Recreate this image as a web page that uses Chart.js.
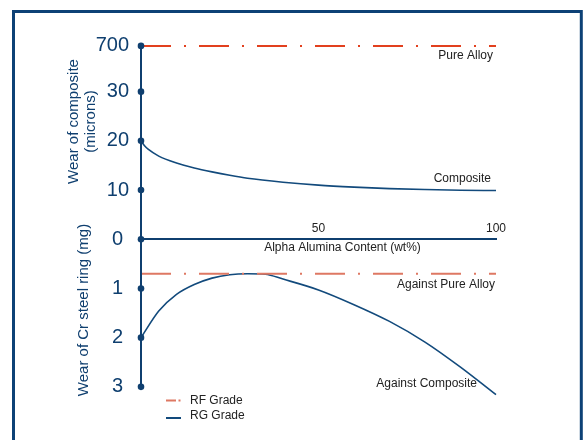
<!DOCTYPE html>
<html>
<head>
<meta charset="utf-8">
<script src="https://cdn.jsdelivr.net/npm/chart.js@4/dist/chart.umd.min.js"></script>
<style>
  html, body { margin: 0; padding: 0; background: #fff; overflow: hidden; }
  #wrap { position: relative; width: 583px; height: 440px; }
</style>
</head>
<body>
<div id="wrap"><canvas id="wear" width="583" height="440"></canvas></div>
<script>
// Alpha alumina content of the composite (wt%)
const alumina = [0, 1, 2, 5, 10, 15, 20, 25, 30, 40, 50, 60, 70, 80, 90, 100];
// Wear of the composite (microns) - RG grade
const compositeWear = [20, 19.0, 18.3, 16.9, 15.5, 14.5, 13.7, 13.0, 12.4, 11.6, 11.0, 10.6, 10.3, 10.1, 9.95, 9.9];
// Wear of the pure alloy (microns) - RF grade, shown above the axis break
const alloyContent = [0, 100];
const pureAlloyWear = [700, 700];

// Wear of the Cr steel ring (mg)
const ringContent = [0, 5, 10, 15, 20, 25, 30, 35, 40, 50, 60, 70, 80, 90, 100];
const ringWearVsComposite = [2.0, 1.46, 1.12, 0.92, 0.79, 0.72, 0.70, 0.71, 0.81, 1.03, 1.33, 1.67, 2.09, 2.60, 3.16];
const ringWearVsAlloy = [0.7, 0.7];

// Axis ticks
const upperTicks = [10, 20, 30, 700];
const lowerTicks = [0, 1, 2, 3];
const xTicks = [50, 100];

// Upper axis is broken: anything above BREAK_ABOVE is drawn at BREAK_AT
const BREAK_ABOVE = 35;
const BREAK_AT = 39.3;
const UPPER_MAX = 40.5;   // microns
const LOWER_MAX = 3.8;    // mg

const FONT = "'Liberation Sans', Arial, Helvetica, sans-serif";
const NAVY = '#0f3f6f';
const CURVE = '#124a7c';
const RED = '#e2401e';
const SALMON = '#de7863';
const INK = '#222222';
const DASH_DOT = [30, 13, 2, 13];

Chart.defaults.font.family = FONT;

class BrokenLinearScale extends Chart.LinearScale {
  getPixelForValue(value) {
    return super.getPixelForValue(value > BREAK_ABOVE ? BREAK_AT : value);
  }
}
BrokenLinearScale.id = 'brokenLinear';
BrokenLinearScale.defaults = Chart.LinearScale.defaults;
Chart.register(BrokenLinearScale);

const pts = (xs, ys) => xs.map((x, i) => ({ x, y: ys[i] }));

const lineBase = { pointRadius: 0, pointHoverRadius: 0, fill: false, clip: false };

const datasets = [
  { ...lineBase, label: 'Pure Alloy', note: { dx: -3, dy: 13 },
    data: pts(alloyContent, pureAlloyWear), yAxisID: 'y',
    borderColor: RED, borderWidth: 2, borderDash: DASH_DOT },
  { ...lineBase, label: 'Composite', note: { dx: -5, dy: -9 },
    data: pts(alumina, compositeWear), yAxisID: 'y',
    borderColor: CURVE, borderWidth: 1.6, cubicInterpolationMode: 'monotone' },
  { ...lineBase, label: 'Against Pure Alloy', note: { dx: -1, dy: 14.5 },
    data: pts(alloyContent, ringWearVsAlloy), yAxisID: 'y2',
    borderColor: SALMON, borderWidth: 2, borderDash: DASH_DOT },
  { ...lineBase, label: 'Against Composite', note: { dx: -19, dy: -8 },
    data: pts(ringContent, ringWearVsComposite), yAxisID: 'y2',
    borderColor: CURVE, borderWidth: 1.6, cubicInterpolationMode: 'monotone' }
];

const legendEntries = [
  { text: 'RF Grade', color: SALMON, dash: [10, 2.5, 2, 20] },
  { text: 'RG Grade', color: CURVE, dash: [] }
];

// Frame around the figure
const framePlugin = {
  id: 'frame',
  beforeDraw(chart) {
    const { ctx, width, height } = chart;
    ctx.save();
    ctx.fillStyle = '#ffffff';
    ctx.fillRect(0, 0, width, height);
    ctx.strokeStyle = '#0d4176';
    ctx.lineWidth = 3;
    ctx.strokeRect(13.5, 11.5, 567.8, 600);
    ctx.restore();
  }
};

// Vertical axis spine with dotted tick marks, axis titles, line notes and legend
const decorPlugin = {
  id: 'decor',
  afterDatasetsDraw(chart) {
    const { ctx, chartArea, scales } = chart;
    const x0 = chartArea.left;
    const upper = scales.y, lower = scales.y2;
    const top = upper.getPixelForValue(upperTicks[upperTicks.length - 1]);
    const bottom = lower.getPixelForValue(lowerTicks[lowerTicks.length - 1]);
    ctx.save();
    ctx.strokeStyle = NAVY;
    ctx.lineWidth = 2;
    ctx.beginPath();
    ctx.moveTo(x0, top);
    ctx.lineTo(x0, bottom);
    ctx.stroke();
    ctx.fillStyle = NAVY;
    [[upper, upperTicks], [lower, lowerTicks]].forEach(([s, ticks]) => {
      ticks.forEach(v => {
        ctx.beginPath();
        ctx.arc(x0, s.getPixelForValue(v), 3.3, 0, Math.PI * 2);
        ctx.fill();
      });
    });

    // notes at the right end of each line
    ctx.fillStyle = INK;
    ctx.font = '12px ' + FONT;
    ctx.textAlign = 'right';
    ctx.textBaseline = 'alphabetic';
    chart.data.datasets.forEach((ds, i) => {
      const pts = chart.getDatasetMeta(i).data;
      const end = pts[pts.length - 1];
      ctx.fillText(ds.label, end.x + ds.note.dx, end.y + ds.note.dy);
    });

    // x axis title
    const axisY = upper.getPixelForValue(0);
    ctx.textAlign = 'center';
    ctx.fillText('Alpha Alumina Content (wt%)', 342.5, axisY + 12);

    // y axis titles
    ctx.fillStyle = NAVY;
    ctx.font = '15px ' + FONT;
    const vText = (text, x, y) => {
      ctx.save();
      ctx.translate(x, y);
      ctx.rotate(-Math.PI / 2);
      ctx.textAlign = 'center';
      ctx.fillText(text, 0, 0);
      ctx.restore();
    };
    vText('Wear of composite', 78, 121.5);
    vText('(microns)', 94.5, 121.5);
    vText('Wear of Cr steel ring (mg)', 88, 310);

    // legend
    ctx.font = '12px ' + FONT;
    ctx.textAlign = 'left';
    ctx.textBaseline = 'middle';
    legendEntries.forEach((e, i) => {
      const y = 400.5 + i * 15;
      const ly = y + (i ? 2.5 : 0);
      ctx.strokeStyle = e.color;
      ctx.lineWidth = 2;
      ctx.setLineDash(e.dash);
      ctx.beginPath();
      ctx.moveTo(166, ly);
      ctx.lineTo(181, ly);
      ctx.stroke();
      ctx.setLineDash([]);
      ctx.fillStyle = INK;
      ctx.fillText(e.text, 190, y);
    });
    ctx.restore();
  }
};

// Tick labels sit well inside the chart area, so they need no extra room above or below it
const noEdgePadding = s => { s.width = 141; s.paddingTop = 0; s.paddingBottom = 0; };

new Chart(document.getElementById('wear'), {
  type: 'line',
  data: { datasets },
  plugins: [framePlugin, decorPlugin],
  options: {
    responsive: false,
    animation: false,
    events: [],
    layout: { padding: { left: 0, top: 40, right: 87, bottom: 13.8 } },
    plugins: { legend: { display: false }, tooltip: { enabled: false } },
    scales: {
      x: {
        type: 'linear', min: 0, max: 100,
        position: { y: 0 },
        grid: { display: false, drawTicks: false },
        border: { display: true, color: NAVY, width: 2 },
        afterBuildTicks: s => { s.ticks = xTicks.map(v => ({ value: v })); },
        ticks: { font: { size: 12 }, color: INK, padding: -17.5, maxRotation: 0, autoSkip: false }
      },
      y: {
        type: 'brokenLinear', position: 'left', stack: 'wear', weight: 1,
        stackWeight: UPPER_MAX / 10,
        min: 0, max: UPPER_MAX,
        grid: { display: false, drawTicks: false },
        border: { display: false },
        afterBuildTicks: s => { s.ticks = upperTicks.map(v => ({ value: v })); },
        afterFit: noEdgePadding,
        ticks: { font: { size: 20 }, color: NAVY, padding: 12, autoSkip: false, callback: v => String(v) }
      },
      y2: {
        type: 'linear', position: 'left', stack: 'wear', weight: 0,
        stackWeight: LOWER_MAX, reverse: true,
        min: 0, max: LOWER_MAX,
        grid: { display: false, drawTicks: false },
        border: { display: false },
        afterBuildTicks: s => { s.ticks = lowerTicks.map(v => ({ value: v })); },
        afterFit: noEdgePadding,
        ticks: { font: { size: 20 }, color: NAVY, padding: 18, autoSkip: false, callback: v => String(v) }
      }
    }
  }
});
</script>
</body>
</html>
